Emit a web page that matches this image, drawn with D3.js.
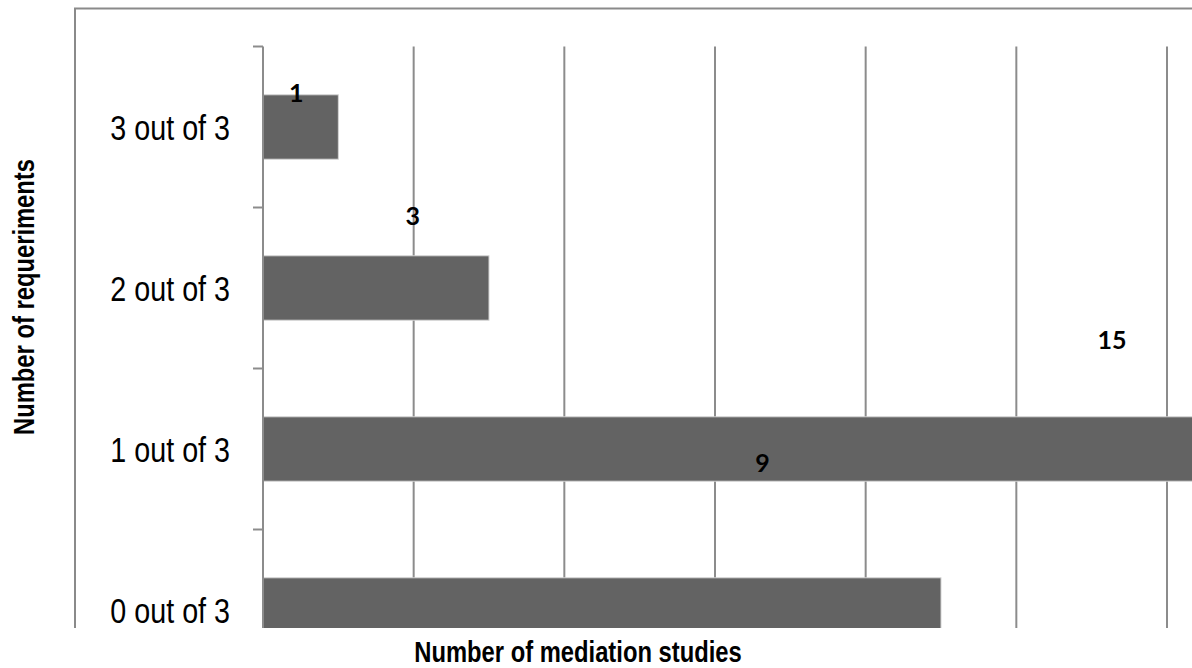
<!DOCTYPE html>
<html>
<head>
<meta charset="utf-8">
<script src="https://cdn.jsdelivr.net/npm/d3@7"></script>
<style>
  html, body { margin: 0; padding: 0; background: #fff; overflow: hidden; }
  svg { display: block; }
  .narrow { font-family: 'Liberation Sans', Arial, sans-serif; }
  .val { font-family: Lato, 'Open Sans', sans-serif; font-weight: bold; font-size: 25px; fill: #000; }
</style>
</head>
<body>
<svg id="chart" width="1192" height="668"></svg>
<script>
// Categories, top row first
const categories = ["3 out of 3", "2 out of 3", "1 out of 3", "0 out of 3"];
// Number of mediation studies per category
const studies = [1, 3, 15, 9];
// Value-axis extent and gridline step
const xMax = 12;
const gridStep = 2;

const W = 1192, H = 668;
const frame = { left: 75, top: 8.5, bottom: 628 };
const plot = { left: 263, right: 1167, top: 46.5, bottom: 690.5 };
const condense = 0.82; // horizontal squeeze for a narrow typeface look

const svg = d3.select("#chart");

const x = d3.scaleLinear().domain([0, xMax]).range([plot.left, plot.right]);
const y = d3.scaleBand().domain(categories).range([plot.top, plot.bottom])
  .paddingInner(0.6).paddingOuter(0.3);

// Data labels sit on their own offset layout
const xLab = d3.scaleLinear().domain([0, 15]).range([238, 1112]);
const yLab = d3.scalePoint().domain(categories).range([102, 472]);

svg.append("defs").append("clipPath").attr("id", "view")
  .append("rect").attr("x", 0).attr("y", 0).attr("width", W).attr("height", frame.bottom);

const g = svg.append("g").attr("clip-path", "url(#view)");

// Chart frame (top and left edges)
g.append("path")
  .attr("d", `M${frame.left},${H}V${frame.top}H${W + 10}`)
  .attr("fill", "none").attr("stroke", "#8a8a8a").attr("stroke-width", 2);

// Vertical gridlines
const gridVals = d3.range(gridStep, xMax + gridStep * 2, gridStep);
g.append("g").selectAll("line").data(gridVals).join("line")
  .attr("x1", d => x(d)).attr("x2", d => x(d))
  .attr("y1", plot.top).attr("y2", plot.bottom)
  .attr("stroke", "#8c8c8c").attr("stroke-width", 2);

// Bars
g.append("g").selectAll("rect").data(categories).join("rect")
  .attr("x", x(0))
  .attr("y", d => y(d))
  .attr("width", (d, i) => x(studies[i]) - x(0))
  .attr("height", y.bandwidth())
  .attr("fill", "#636363")
  .attr("stroke", "#d4d4d4").attr("stroke-width", 1);

// Category axis: line plus ticks at band boundaries
g.append("line")
  .attr("x1", x(0)).attr("x2", x(0))
  .attr("y1", plot.top).attr("y2", plot.bottom)
  .attr("stroke", "#8c8c8c").attr("stroke-width", 2);
const bounds = d3.range(categories.length + 1).map(i => plot.top + i * y.step());
g.append("g").selectAll("line").data(bounds).join("line")
  .attr("x1", x(0) - 10).attr("x2", x(0))
  .attr("y1", d => d).attr("y2", d => d)
  .attr("stroke", "#8c8c8c").attr("stroke-width", 2);

// Category labels
g.append("g").selectAll("text").data(categories).join("text")
  .attr("class", "narrow")
  .attr("transform", d => `translate(230,${y(d) + y.bandwidth() / 2}) scale(${condense},1)`)
  .attr("dy", "0.36em")
  .attr("text-anchor", "end")
  .attr("font-size", 35)
  .attr("fill", "#000")
  .text(d => d);

// Value labels
g.append("g").selectAll("text").data(categories).join("text")
  .attr("class", "val")
  .attr("x", (d, i) => xLab(studies[i]))
  .attr("y", d => yLab(d))
  .attr("text-anchor", "middle")
  .text((d, i) => studies[i]);

// Axis titles
svg.append("text")
  .attr("class", "narrow")
  .attr("transform", `translate(578,662) scale(${condense},1)`)
  .attr("text-anchor", "middle")
  .attr("font-size", 29).attr("font-weight", "bold")
  .text("Number of mediation studies");

svg.append("text")
  .attr("class", "narrow")
  .attr("transform", `translate(34,297) rotate(-90) scale(${condense},1)`)
  .attr("text-anchor", "middle")
  .attr("font-size", 29).attr("font-weight", "bold")
  .text("Number of requeriments");
</script>
</body>
</html>
